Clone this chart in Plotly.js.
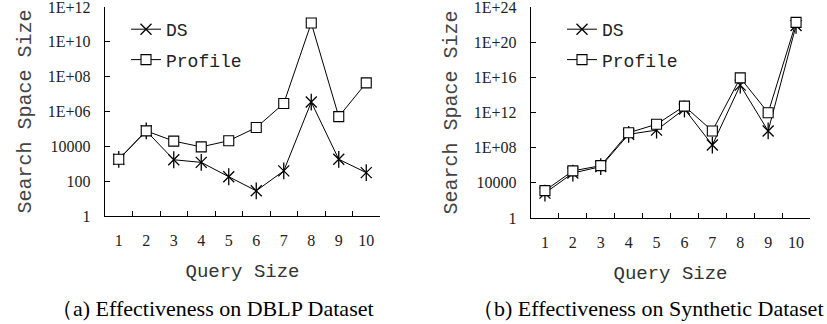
<!DOCTYPE html>
<html>
<head>
<meta charset="utf-8">
<script src="https://cdn.plot.ly/plotly-3.0.1.min.js"></script>
<style>html,body{margin:0;padding:0;background:#fff}#chart{width:827px;height:324px}</style>
</head>
<body>
<div id="chart"></div>
<script>
// ---- data ----
const querySizes = ['1','2','3','4','5','6','7','8','9','10'];
const dblpDS      = [1800, 77000, 1700, 1200, 180, 28, 390, 3.5e6, 1800, 310];
const dblpProfile = [1800, 77000, 20000, 9300, 21000, 1.2e5, 2.9e6, 1.2e11, 5.1e5, 4.4e7];
const synDS       = [680, 1.3e5, 7e5, 3.3e9, 1e10, 2.5e12, 2e8, 1.3e15, 8e9, 8e21];
const synProfile  = [1300, 2.3e5, 9e5, 5e9, 4.6e10, 5.4e12, 8e9, 8.7e15, 9.4e11, 1.8e22];
const dblpTickVals = [1, 100, 1e4, 1e6, 1e8, 1e10, 1e12];
const dblpTickText = ['1', '100', '10000', '1E+06', '1E+08', '1E+10', '1E+12'];
const synTickVals  = [1, 1e4, 1e8, 1e12, 1e16, 1e20, 1e24];
const synTickText  = ['1', '10000', '1E+08', '1E+12', '1E+16', '1E+20', '1E+24'];
const seriesNames = ['DS', 'Profile'];
const captions = ['\uFF08a) Effectiveness on DBLP Dataset', '\uFF08b) Effectiveness on Synthetic Dataset'];
const xTitle = 'Query Size';
const yTitle = 'Search Space Size';

// ---- styles ----
const monoFont = 'Liberation Mono, DejaVu Sans Mono, monospace';
const serifFont = 'Liberation Serif, Times New Roman, serif';
const lineStyle = {color: '#000', width: 1};
const dsMarker = {symbol: 'x-thin-open', size: 11, color: '#000', line: {color: '#000', width: 1.3}};
const dsMarkerV = {symbol: 'line-ns-open', size: 12, color: '#000', line: {color: '#000', width: 1.3}};
const prMarker = {symbol: 'square', size: 10, color: '#fff', line: {color: '#000', width: 1.1}};

function tr(y, name, marker, xa, ya, leg) {
  return {x: querySizes, y: y, name: name, type: 'scatter', mode: 'lines+markers',
    line: lineStyle, marker: marker, xaxis: xa, yaxis: ya, legend: leg, legendgroup: leg + name};
}
function vbar(y, xa, ya) {
  return {x: querySizes, y: y, type: 'scatter', mode: 'markers', marker: dsMarkerV,
    xaxis: xa, yaxis: ya, showlegend: false, hoverinfo: 'skip'};
}

const data = [
  tr(dblpDS, seriesNames[0], dsMarker, 'x', 'y', 'legend'),
  vbar(dblpDS, 'x', 'y'),
  tr(dblpProfile, seriesNames[1], prMarker, 'x', 'y', 'legend'),
  tr(synDS, seriesNames[0], dsMarker, 'x2', 'y2', 'legend2'),
  vbar(synDS, 'x2', 'y2'),
  tr(synProfile, seriesNames[1], prMarker, 'x2', 'y2', 'legend2')
];

function xaxis(domain, anchor) {
  return {domain: domain, anchor: anchor, type: 'category', tickson: 'boundaries',
    range: [-0.5, 9.5], showline: true, linecolor: '#000', linewidth: 1.3,
    ticks: 'inside', ticklen: 5, tickcolor: '#000', tickwidth: 1, showgrid: false, zeroline: false,
    tickfont: {family: serifFont, size: 16, color: '#222'}, ticklabelstandoff: 9,
    title: {text: xTitle, font: {family: monoFont, size: 19, color: '#333'}, standoff: 16}};
}
function yaxis(domain, anchor, range, vals, text) {
  return {domain: domain, anchor: anchor, type: 'log', range: range, tickvals: vals, ticktext: text,
    showline: true, linecolor: '#000', linewidth: 1.3, ticks: 'inside', ticklen: 5, tickcolor: '#000',
    tickwidth: 1, showgrid: false, zeroline: false, ticklabeloverflow: 'allow',
    tickfont: {family: serifFont, size: 16, color: '#222'}, ticklabelstandoff: 10,
    title: {text: yTitle, font: {family: monoFont, size: 20, color: '#444'}, standoff: 10}};
}
function legend(x) {
  return {x: x, y: 1 - 11/324, xanchor: 'left', yanchor: 'top', bgcolor: 'rgba(0,0,0,0)',
    font: {family: monoFont, size: 18, color: '#222'}, traceorder: 'grouped', tracegroupgap: 4,
    itemwidth: 30};
}

const layout = {
  width: 827, height: 324, margin: {l: 0, r: 0, t: 0, b: 0},
  paper_bgcolor: '#fff', plot_bgcolor: '#fff', showlegend: true,
  xaxis: xaxis([105/827, 380/827], 'y'),
  yaxis: yaxis([1 - 216/324, 1 - 7/324], 'x', [0, 12.002], dblpTickVals, dblpTickText),
  xaxis2: xaxis([531/827, 810/827], 'y2'),
  yaxis2: yaxis([1 - 218/324, 1 - 7/324], 'x2', [0, 24.004], synTickVals, synTickText),
  legend: legend(126/827),
  legend2: legend(562/827),
  annotations: [
    {text: captions[0], xref: 'paper', yref: 'paper', x: 212/827, y: 1 - 308/324, xanchor: 'center', yanchor: 'middle',
     showarrow: false, font: {family: serifFont, size: 22, color: '#000'}},
    {text: captions[1], xref: 'paper', yref: 'paper', x: 648/827, y: 1 - 308/324, xanchor: 'center', yanchor: 'middle',
     showarrow: false, font: {family: serifFont, size: 22, color: '#000'}}
  ]
};

Plotly.newPlot('chart', data, layout, {staticPlot: true, displayModeBar: false});
</script>
</body>
</html>
